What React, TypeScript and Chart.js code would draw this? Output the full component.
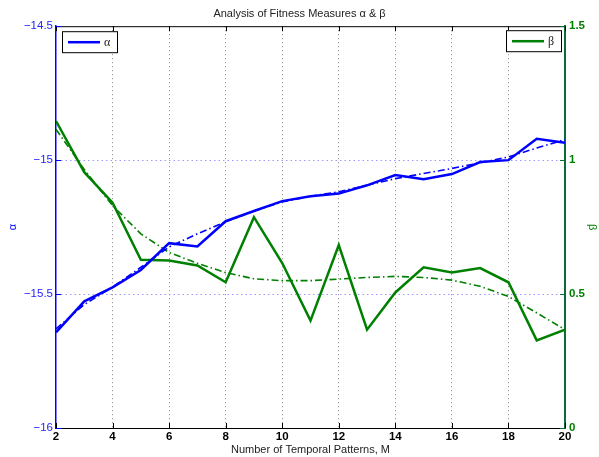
import React, { useEffect, useRef } from "react";
import { Chart, registerables } from "chart.js";

Chart.register(...registerables);

const M = [2, 3, 4, 5, 6, 7, 8, 9, 10, 11, 12, 13, 14, 15, 16, 17, 18, 19, 20];
const alpha = [-15.643, -15.527, -15.475, -15.41, -15.31, -15.322, -15.228, -15.19, -15.153, -15.135, -15.125, -15.094, -15.056, -15.071, -15.052, -15.007, -15.0, -14.92, -14.935];
const alphaFit = [-15.63, -15.539, -15.474, -15.4, -15.324, -15.275, -15.23, -15.19, -15.156, -15.135, -15.118, -15.094, -15.069, -15.05, -15.031, -15.01, -14.988, -14.955, -14.923];
const beta = [1.146, 0.955, 0.841, 0.628, 0.625, 0.607, 0.544, 0.787, 0.616, 0.401, 0.683, 0.367, 0.506, 0.6, 0.581, 0.597, 0.544, 0.327, 0.367];
const betaFit = [1.115, 0.965, 0.83, 0.725, 0.655, 0.615, 0.58, 0.557, 0.55, 0.55, 0.556, 0.562, 0.566, 0.562, 0.552, 0.529, 0.491, 0.43, 0.367];

const xTicks = [2, 4, 6, 8, 10, 12, 14, 16, 18, 20];
const alphaTicks = [-16, -15.5, -15, -14.5];
const betaTicks = [0, 0.5, 1, 1.5];

const BLUE = "#0000ff";
const GREEN = "#008000";
const FONT = "'Liberation Sans', Arial, Helvetica, sans-serif";

const pts = (ys: number[]) => M.map((x, i) => ({ x, y: ys[i] }));

const decor = {
  id: "decor",
  afterDatasetsDraw(chart: any) {
    const { ctx, chartArea } = chart;
    const { left, right, top, bottom } = chartArea;
    const xs = chart.scales.x;
    const ya = chart.scales.yA;
    const yb = chart.scales.yB;
    const L = 5;
    ctx.save();
    ctx.strokeStyle = "#000";
    ctx.lineWidth = 1;
    ctx.beginPath();
    ctx.moveTo(left, top + 0.5);
    ctx.lineTo(right, top + 0.5);
    ctx.stroke();
    xTicks.forEach((v) => {
      const px = Math.round(xs.getPixelForValue(v)) + 0.5;
      ctx.beginPath();
      ctx.moveTo(px, bottom);
      ctx.lineTo(px, bottom - L);
      ctx.moveTo(px, top);
      ctx.lineTo(px, top + L);
      ctx.stroke();
    });
    ctx.strokeStyle = BLUE;
    alphaTicks.forEach((v) => {
      const py = Math.round(ya.getPixelForValue(v)) + 0.5;
      ctx.beginPath();
      ctx.moveTo(left, py);
      ctx.lineTo(left + L, py);
      ctx.stroke();
    });
    ctx.strokeStyle = "#0b6b3a";
    betaTicks.forEach((v) => {
      const py = Math.round(yb.getPixelForValue(v)) + 0.5;
      ctx.beginPath();
      ctx.moveTo(right, py);
      ctx.lineTo(right - L, py);
      ctx.stroke();
    });
    const drawLegend = (bx: number, by: number, color: string, label: string) => {
      const w = 55;
      const h = 21;
      ctx.fillStyle = "#fff";
      ctx.fillRect(bx, by, w, h);
      ctx.strokeStyle = "#000";
      ctx.lineWidth = 1;
      ctx.strokeRect(bx + 0.5, by + 0.5, w, h);
      ctx.strokeStyle = color;
      ctx.lineWidth = 2.5;
      ctx.beginPath();
      ctx.moveTo(bx + 6, by + 11);
      ctx.lineTo(bx + 38, by + 11);
      ctx.stroke();
      ctx.fillStyle = "#222";
      ctx.font = "12px 'Liberation Serif', 'DejaVu Serif', serif";
      ctx.textBaseline = "middle";
      ctx.textAlign = "left";
      ctx.fillText(label, bx + 42, by + 12);
    };
    drawLegend(left + 6, top + 5, BLUE, "α");
    drawLegend(right - 59, top + 4, GREEN, "β");
    ctx.restore();
  },
};

export default function App() {
  const ref = useRef<HTMLCanvasElement | null>(null);
  useEffect(() => {
    const canvas = ref.current;
    if (!canvas) return;
    const chart = new Chart(canvas, {
      type: "line",
      data: {
        datasets: [
          { label: "α", data: pts(alpha), yAxisID: "yA", borderColor: BLUE, borderWidth: 2.5, pointRadius: 0, tension: 0 },
          { label: "α fit", data: pts(alphaFit), yAxisID: "yA", borderColor: BLUE, borderWidth: 1.6, borderDash: [7, 3, 1.5, 3], pointRadius: 0, tension: 0 },
          { label: "β", data: pts(beta), yAxisID: "yB", borderColor: GREEN, borderWidth: 2.5, pointRadius: 0, tension: 0 },
          { label: "β fit", data: pts(betaFit), yAxisID: "yB", borderColor: GREEN, borderWidth: 1.6, borderDash: [7, 3, 1.5, 3], pointRadius: 0, tension: 0 },
        ],
      },
      options: {
        animation: false,
        responsive: false,
        devicePixelRatio: 1,
        layout: { padding: 0 },
        plugins: {
          legend: { display: false },
          tooltip: { enabled: false },
          title: {
            display: true,
            text: "Analysis of Fitness Measures α & β",
            color: "#222",
            font: { family: FONT, size: 11, weight: "normal" },
            padding: { top: 7, bottom: 6 },
          },
        },
        scales: {
          x: {
            type: "linear",
            min: 2,
            max: 20,
            afterFit: (s: any) => { s.height = 29; },
            afterBuildTicks: (s: any) => { s.ticks = xTicks.map((v) => ({ value: v })); },
            ticks: {
              color: "#000",
              font: { family: FONT, size: 11.5, weight: "bold" },
              padding: 2,
              autoSkip: false,
              maxRotation: 0,
              callback: (v: any) => String(v),
            },
            grid: {
              drawTicks: false,
              color: (c: any) => c.tick && (c.tick.value === 2 || c.tick.value === 20) ? "rgba(0,0,0,0)" : "#8a8a8a",
              lineWidth: 1,
            },
            border: { display: true, color: "#000", width: 1, dash: [1, 3] },
            title: {
              display: true,
              text: "Number of Temporal Patterns, M",
              color: "#222",
              font: { family: FONT, size: 11 },
              padding: { top: 0, bottom: 0 },
            },
          },
          yA: {
            type: "linear",
            position: "left",
            min: -16,
            max: -14.5,
            afterFit: (s: any) => { s.width = 56; },
            afterBuildTicks: (s: any) => { s.ticks = alphaTicks.map((v) => ({ value: v })); },
            ticks: {
              color: "#2424ff",
              font: { family: FONT, size: 11.5 },
              padding: 3,
              callback: (v: any) => String(v).replace("-", "\u2212"),
            },
            grid: {
              drawTicks: false,
              color: (c: any) => c.tick && (c.tick.value === -16 || c.tick.value === -14.5) ? "rgba(0,0,0,0)" : "#9a9aff",
              lineWidth: 1,
            },
            border: { display: true, color: BLUE, width: 1.5, dash: [1.5, 3] },
            title: {
              display: true,
              text: "α",
              color: BLUE,
              font: { family: FONT, size: 11 },
              padding: { top: 6, bottom: 0 },
            },
          },
          yB: {
            type: "linear",
            position: "right",
            min: 0,
            max: 1.5,
            afterFit: (s: any) => { s.width = 34; },
            afterBuildTicks: (s: any) => { s.ticks = betaTicks.map((v) => ({ value: v })); },
            ticks: {
              color: GREEN,
              font: { family: FONT, size: 11.5, weight: "bold" },
              padding: 4,
              callback: (v: any) => String(v),
            },
            grid: { display: false, drawTicks: false },
            border: { display: true, color: "#0b6b3a", width: 2 },
            title: {
              display: true,
              text: "β",
              color: GREEN,
              font: { family: FONT, size: 11 },
              padding: { top: 0, bottom: 0 },
            },
          },
        },
      } as any,
      plugins: [decor],
    });
    return () => chart.destroy();
  }, []);
  return (
    <div style={{ position: "fixed", left: 0, top: 0, width: 599, height: 457, background: "#fff" }}>
      <canvas ref={ref} width={599} height={457} style={{ display: "block" }} />
    </div>
  );
}
